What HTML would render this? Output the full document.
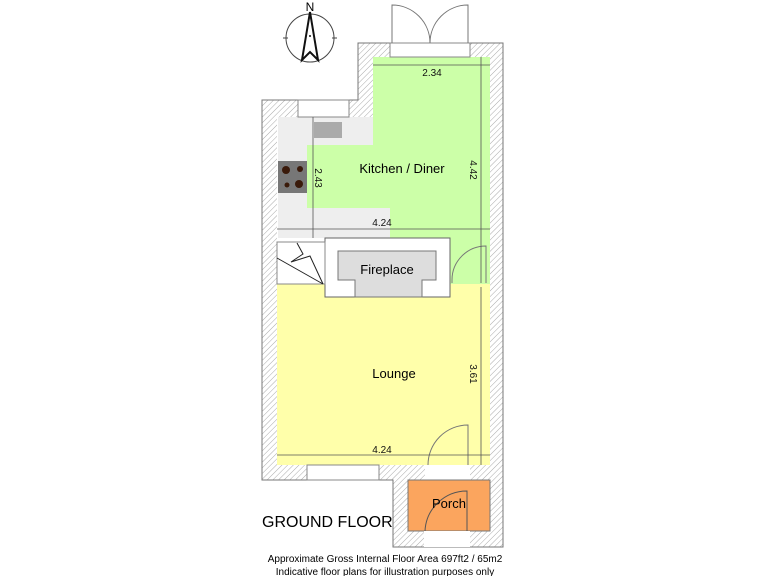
<!DOCTYPE html>
<html><head><meta charset="utf-8"><style>
body{margin:0;background:#fff;}
svg{display:block;font-family:"Liberation Sans",sans-serif;}
</style></head><body>
<svg width="768" height="576" viewBox="0 0 768 576">
<defs>
<pattern id="h" width="4" height="4" patternUnits="userSpaceOnUse" patternTransform="rotate(45)">
<rect width="4" height="4" fill="#fff"/><line x1="0" y1="0" x2="0" y2="4" stroke="#aaa" stroke-width="1"/>
</pattern>
</defs>
<path d="M358 43 H503 V547 H393 V480 H262 V100 H358 Z" fill="url(#h)" stroke="#777" stroke-width="1"/>
<rect x="277" y="117" width="213" height="348" fill="#fff"/>
<rect x="373" y="57" width="117" height="60" fill="#fff"/>
<path d="M373 57 H490 V285 H450 V238 H390 V208 H307 V145 H373 Z" fill="#ccffa8"/>
<rect x="278" y="117" width="95" height="28" fill="#eee"/>
<rect x="278" y="145" width="29" height="63" fill="#eee"/>
<rect x="278" y="208" width="112" height="30" fill="#eee"/>
<rect x="314" y="122" width="28" height="16" fill="#aaa"/>
<rect x="278" y="161" width="29" height="32" fill="#777"/>
<circle cx="286" cy="170" r="4" fill="#3a1a0a"/><circle cx="300" cy="169" r="3" fill="#3a1a0a"/>
<circle cx="287" cy="185" r="2.5" fill="#3a1a0a"/><circle cx="299" cy="184" r="4" fill="#3a1a0a"/>
<rect x="277" y="284" width="213" height="181" fill="#ffffaa"/>
<rect x="325" y="238" width="125" height="59" fill="#fff" stroke="#666" stroke-width="1"/>
<path d="M338 251 H436 V280 H422 V297 H355 V280 H338 Z" fill="#ddd" stroke="#777" stroke-width="1"/>
<text x="387" y="274" font-size="13" text-anchor="middle">Fireplace</text>
<rect x="277" y="242" width="48" height="42" fill="#fff" stroke="#888" stroke-width="1"/>
<path d="M277 258 L323 284 M297 243 L303 254 L291 262 L310 256 L323 284" fill="none" stroke="#222" stroke-width="1"/>
<rect x="390" y="43" width="80" height="14" fill="#fff" stroke="#888"/>
<rect x="298" y="100" width="51" height="17" fill="#fff" stroke="#888"/>
<rect x="307" y="465" width="72" height="15" fill="#fff" stroke="#888"/>
<rect x="425" y="465" width="45" height="15" fill="#fff"/>
<path d="M392 43 V5 A38 38 0 0 1 430 43 M468 43 V5 A38 38 0 0 0 430 43" fill="none" stroke="#777"/>
<path d="M452 283 V280 A34 34 0 0 1 486 246 V283" fill="none" stroke="#777"/>
<path d="M428 465 A40 40 0 0 1 468 425 V465" fill="none" stroke="#777"/>
<rect x="408" y="480" width="82" height="51" fill="#fba55e" stroke="#777"/>
<rect x="424" y="531" width="46" height="16" fill="#fff"/>
<path d="M425 531 A42 42 0 0 1 467 491 V531" fill="none" stroke="#555"/>
<text x="449" y="508" font-size="13" text-anchor="middle">Porch</text>
<g stroke="#555" stroke-width="0.8" fill="none">
<line x1="373" y1="65" x2="490" y2="65"/>
<line x1="481" y1="57" x2="481" y2="283"/>
<line x1="313" y1="117" x2="313" y2="238"/>
<line x1="277" y1="229" x2="490" y2="229"/>
<line x1="277" y1="455" x2="490" y2="455"/>
<line x1="481" y1="287" x2="481" y2="465"/>
</g>
<g font-size="10" fill="#111">
<text x="432" y="76" text-anchor="middle">2.34</text>
<text x="382" y="226" text-anchor="middle">4.24</text>
<text x="382" y="453" text-anchor="middle">4.24</text>
<text transform="translate(315,178) rotate(90)" text-anchor="middle">2.43</text>
<text transform="translate(470,170) rotate(90)" text-anchor="middle">4.42</text>
<text transform="translate(470,374) rotate(90)" text-anchor="middle">3.61</text>
</g>
<text x="402" y="173" font-size="13" text-anchor="middle">Kitchen / Diner</text>
<text x="394" y="378" font-size="13" text-anchor="middle">Lounge</text>
<circle cx="310" cy="38" r="24" fill="none" stroke="#444"/>
<line x1="283" y1="38" x2="288" y2="38" stroke="#444"/><line x1="332" y1="38" x2="337" y2="38" stroke="#444"/>
<path d="M310 12 L302 60 L310 52 L318 60 Z" fill="#fff" stroke="#111" stroke-width="2"/>
<circle cx="310" cy="36" r="1" fill="#111"/>
<text x="310" y="11" font-size="12" text-anchor="middle">N</text>
<text x="262" y="527" font-size="16">GROUND FLOOR</text>
<text x="385" y="562" font-size="10" text-anchor="middle">Approximate Gross Internal Floor Area 697ft2 / 65m2</text>
<text x="385" y="575" font-size="10" text-anchor="middle">Indicative floor plans for illustration purposes only</text>
</svg>
</body></html>
